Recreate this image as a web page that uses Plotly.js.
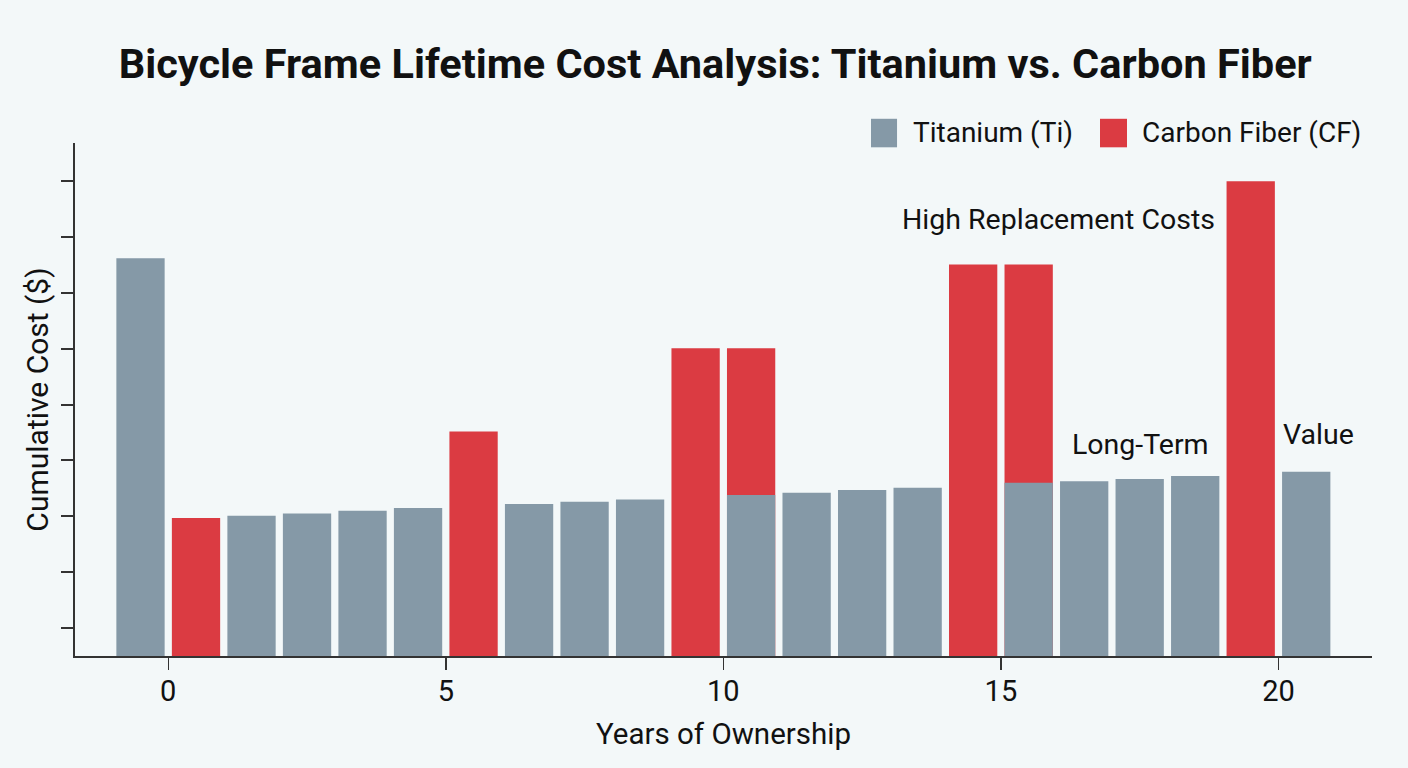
<!DOCTYPE html>
<html><head><meta charset="utf-8">
<script src="https://cdn.plot.ly/plotly-3.0.1.min.js"></script>
<style>html,body{margin:0;padding:0;background:#f3f8f9;} #chart{width:1408px;height:768px;}</style>
</head><body><div id="chart"></div>
<script>
// Data
const tiYears = [-0.5, 1.5, 2.5, 3.5, 4.5, 6.5, 7.5, 8.5, 10.5, 11.5, 12.5, 13.5, 15.5, 16.5, 17.5, 18.5, 20.5];
const tiCost  = [3810, 1505, 1525, 1550, 1575, 1610, 1630, 1650, 1690, 1710, 1735, 1755, 1800, 1815, 1835, 1860, 1900];
const cfYears = [0.5, 5.5, 9.5, 10.5, 14.5, 15.5, 19.5];
const cfCost  = [1485, 2260, 3005, 3005, 3755, 3755, 4500];
const xTickVals = [0, 5, 10, 15, 20];
const yTickVals = [500, 1000, 1500, 2000, 2500, 3000, 3500, 4000, 4500];
const seriesNames = ['Titanium (Ti)', 'Carbon Fiber (CF)'];
const noteTexts = ['High Replacement Costs', 'Long-Term', 'Value'];

const GRAY = '#8599a7', RED = '#db3b42', BG = '#f3f8f9', INK = '#111111', AX = '#333333';
const FONT = 'Roboto, "Open Sans", sans-serif';

const traces = [
  {type: 'bar', name: seriesNames[1], x: cfYears, y: cfCost, width: 0.87,
   marker: {color: RED}, showlegend: false, hoverinfo: 'x+y'},
  {type: 'bar', name: seriesNames[0], x: tiYears, y: tiCost, width: 0.87,
   marker: {color: GRAY}, showlegend: false, hoverinfo: 'x+y'}
];

const layout = {
  width: 1408, height: 768,
  paper_bgcolor: BG, plot_bgcolor: BG,
  font: {family: FONT, color: INK, size: 28},
  margin: {l: 75, r: 36, t: 143, b: 112},
  barmode: 'overlay',
  showlegend: false,
  title: {text: '<b>Bicycle Frame Lifetime Cost Analysis: Titanium vs. Carbon Fiber</b>',
          font: {family: FONT, size: 41.5, color: INK},
          x: 0.508, xanchor: 'center', y: 1 - 63/768, yanchor: 'middle'},
  xaxis: {range: [-1.68, 21.685], tickvals: xTickVals, ticktext: xTickVals.map(String),
          showline: true, linecolor: AX, linewidth: 2, ticks: 'outside', ticklen: 12,
          tickwidth: 1.5, tickcolor: AX, showgrid: false, zeroline: false,
          ticklabelstandoff: -4,
          tickfont: {size: 29, color: INK},
          title: {text: 'Years of Ownership', font: {size: 29.5, color: INK}, standoff: 17}},
  yaxis: {range: [249, 4843], tickvals: yTickVals, showticklabels: false,
          showline: true, linecolor: AX, linewidth: 2, ticks: 'outside', ticklen: 12,
          tickwidth: 2, tickcolor: AX, showgrid: false, zeroline: false,
          title: {text: 'Cumulative Cost ($)', font: {size: 30, color: INK}, standoff: 4}},
  shapes: [
    {type: 'rect', xref: 'paper', yref: 'paper', x0: 0.6137, x1: 0.6338, y0: 0.9916, y1: 1.0472,
     fillcolor: GRAY, line: {width: 0}},
    {type: 'rect', xref: 'paper', yref: 'paper', x0: 0.7903, x1: 0.8111, y0: 0.9916, y1: 1.0472,
     fillcolor: RED, line: {width: 0}}
  ],
  annotations: [
    {xref: 'paper', yref: 'paper', x: 0.6442, y: 1.0199, xanchor: 'left', yanchor: 'middle',
     text: seriesNames[0], showarrow: false, font: {size: 28, color: INK}},
    {xref: 'paper', yref: 'paper', x: 0.8211, y: 1.0199, xanchor: 'left', yanchor: 'middle',
     text: seriesNames[1], showarrow: false, font: {size: 28, color: INK}},
    {x: 16.04, y: 4160, text: noteTexts[0], showarrow: false, font: {size: 28.5, color: INK}},
    {x: 17.52, y: 2145, text: noteTexts[1], showarrow: false, font: {size: 28.5, color: INK}},
    {x: 20.73, y: 2230, text: noteTexts[2], showarrow: false, font: {size: 28.5, color: INK}}
  ]
};

Plotly.newPlot('chart', traces, layout, {displayModeBar: false, staticPlot: true});
</script></body></html>
